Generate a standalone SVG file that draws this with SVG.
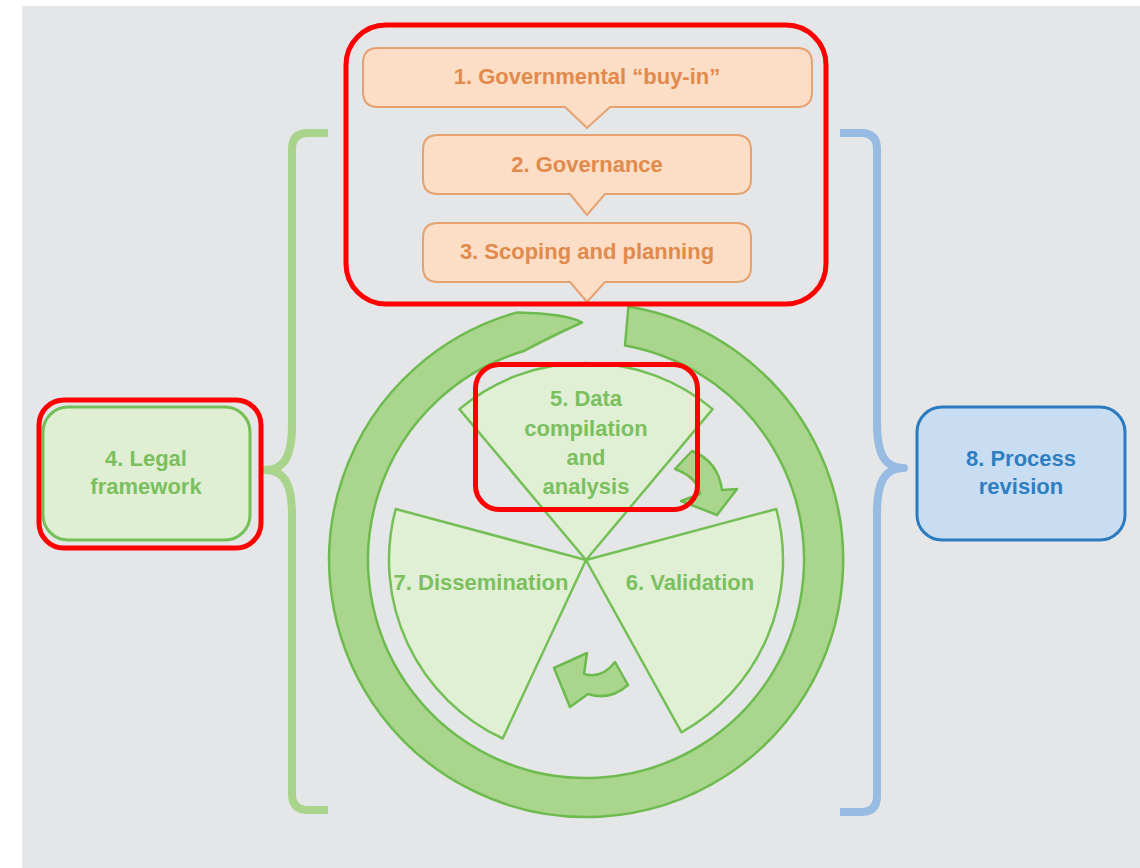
<svg xmlns="http://www.w3.org/2000/svg" width="1140" height="868" viewBox="0 0 1140 868">
  <style>
    text { font-family: "Liberation Sans", Arial, sans-serif; font-weight: bold; font-size: 22px; text-anchor: middle; }
    .peach { fill: #fbdec5; stroke: #e6a16f; stroke-width: 2; }
    .peach-t { fill: #e2894c; }
    .ring { fill: #a9d58d; stroke: #6dbb4f; stroke-width: 2.5; stroke-linejoin: round; }
    .sector { fill: #e1f0d5; stroke: #74bf56; stroke-width: 2.5; stroke-linejoin: round; }
    .green-t { fill: #7bc05f; }
    .legal { fill: #e0efd4; stroke: #74bf56; stroke-width: 3; }
    .rev { fill: #c9ddf2; stroke: #2a7bbf; stroke-width: 3; }
    .blue-t { fill: #2d7fc1; }
    .brace { fill: none; stroke-width: 8; stroke-linecap: butt; stroke-linejoin: round; }
    .hl { fill: none; stroke: #ff0000; stroke-width: 5; }
  </style>

  <!-- page -->
  <rect x="0" y="0" width="1140" height="868" fill="#ffffff"/>
  <rect x="22" y="6" width="1118" height="862" fill="#e5e6e8"/>

  <!-- brackets -->
  <g id="connectors">
    <path class="brace" stroke="#a8d48b" d="M 328 133 H 308 Q 292 133 292 149 V 425 C 292 455 285 470 265 470 C 285 470 292 485 292 515 V 794 Q 292 810 308 810 H 328"/>
    <path class="brace" stroke="#98bbe3" d="M 840 133 H 861 Q 877 133 877 149 V 423 C 877 453 884 468 904 468 C 884 468 877 483 877 513 V 796 Q 877 812 861 812 H 840"/>
  </g>

  <!-- stacked steps 1-3 -->
  <g id="step1">
    <path class="peach" d="M 378 48 H 797 Q 812 48 812 63 V 92 Q 812 107 797 107 H 610 L 587 128 L 565 107 H 378 Q 363 107 363 92 V 63 Q 363 48 378 48 Z"/>
    <text class="peach-t" x="587" y="84">1. Governmental “buy-in”</text>
  </g>
  <g id="step2">
    <path class="peach" d="M 438 135 H 736 Q 751 135 751 150 V 179 Q 751 194 736 194 H 605 L 587 215 L 570 194 H 438 Q 423 194 423 179 V 150 Q 423 135 438 135 Z"/>
    <text class="peach-t" x="587" y="172">2. Governance</text>
  </g>
  <g id="step3">
    <path class="peach" d="M 438 223 H 736 Q 751 223 751 238 V 267 Q 751 282 736 282 H 605 L 587 302 L 570 282 H 438 Q 423 282 423 267 V 238 Q 423 223 438 223 Z"/>
    <text class="peach-t" x="587" y="259">3. Scoping and planning</text>
  </g>

  <!-- circular cycle -->
  <g id="cycle-ring">
    <path class="ring" d="M 628.4 306.5 A 257 257 0 1 1 517.3 312.4 C 545 313 571 316 582 322.5 Q 556 334 523 351.3 A 218 218 0 1 0 625 345.5 Z"/>
  </g>

  <g id="step5">
    <path class="sector" d="M 586 560 L 459.4 409.1 A 197 197 0 0 1 712.6 409.1 Z"/>
    <text class="green-t" x="586" y="406">5. Data</text>
    <text class="green-t" x="586" y="436">compilation</text>
    <text class="green-t" x="586" y="465">and</text>
    <text class="green-t" x="586" y="494">analysis</text>
  </g>
  <g id="step6">
    <path class="sector" d="M 586 560 L 776.3 509 A 197 197 0 0 1 681.5 732.3 Z"/>
    <text class="green-t" x="690" y="590">6. Validation</text>
  </g>
  <g id="step7">
    <path class="sector" d="M 586 560 L 502.7 738.5 A 197 197 0 0 1 395.7 509 Z"/>
    <text class="green-t" x="481" y="590">7. Dissemination</text>
  </g>

  <!-- small turning arrows inside the cycle -->
  <g id="turn-arrows">
    <path class="ring" d="M 675 469 L 692 451 Q 718 461 722 490 L 737 489 L 717 515 L 681 501 L 700 494 Q 697 477 675 469 Z"/>
    <path class="ring" d="M 628 685 Q 610 701 588 694 L 570 707 L 554 668 L 587 653 L 584 674 Q 602 679 615 662 Z"/>
  </g>

  <g id="step4">
    <rect class="legal" x="43" y="407" width="207" height="133" rx="25"/>
    <text class="green-t" x="146" y="466">4. Legal</text>
    <text class="green-t" x="146" y="494">framework</text>
  </g>

  <g id="step8">
    <rect class="rev" x="917" y="407" width="208" height="133" rx="25"/>
    <text class="blue-t" x="1021" y="466">8. Process</text>
    <text class="blue-t" x="1021" y="494">revision</text>
  </g>

  <!-- red emphasis frames -->
  <g id="highlights">
    <rect class="hl" x="346" y="25" width="480" height="279" rx="40"/>
    <rect class="hl" x="475.5" y="364.5" width="222" height="145" rx="24"/>
    <rect class="hl" x="39" y="400" width="222" height="148" rx="25"/>
  </g>
</svg>
